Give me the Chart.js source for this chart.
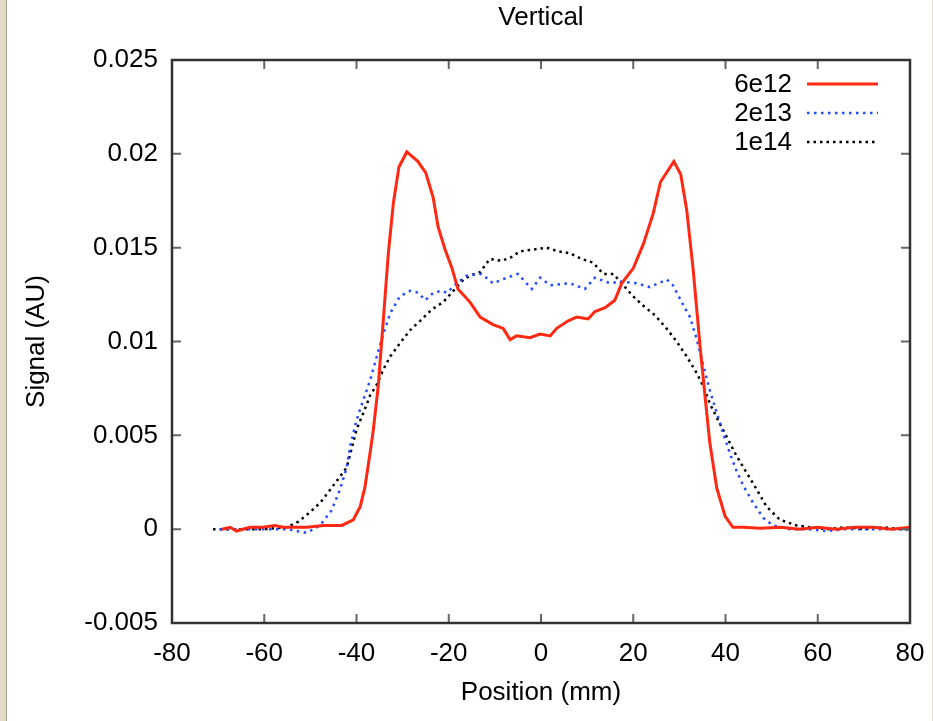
<!DOCTYPE html>
<html>
<head>
<meta charset="utf-8">
<script src="https://cdn.jsdelivr.net/npm/chart.js@4"></script>
<style>
  body { margin: 0; background: #fff; }
  #wrap { position: relative; width: 933px; height: 721px; }
  #edgeL { position: absolute; left: 0; top: 0; width: 6px; height: 721px; background: #e2dac6; border-right: 1px solid #a8a294; }
  #edgeR { position: absolute; right: 0; top: 0; width: 1px; height: 721px; background: #e8e0cc; }
  canvas { position: absolute; left: 0; top: 0; }
</style>
</head>
<body>
<div id="wrap">
  <div id="edgeL"></div>
  <div id="edgeR"></div>
  <canvas id="chart" width="933" height="721"></canvas>
</div>
<script>
const chartTitle = 'Vertical';
const xTitle = 'Position (mm)';
const yTitle = 'Signal (AU)';
const xTicks = [-80, -60, -40, -20, 0, 20, 40, 60, 80];
const yTicks = [-0.005, 0, 0.005, 0.01, 0.015, 0.02, 0.025];
const seriesNames = ['6e12', '2e13', '1e14'];

// 6e12
const pos6e12 = [-69.2, -67.4, -66, -63.1, -60.3, -57.7, -55.9, -50.8, -47.2, -43.2, -40.7, -39.2, -38.2, -37.1,
  -36.4, -35.3, -34.2, -33.1, -32, -30.8, -29.1, -26.7, -25, -23.4, -22.3, -20.8, -19.3, -18, -15.4,
  -13.2, -10.4, -8.2, -6.7, -5.3, -2.4, -0.2, 2, 3.4, 5.9, 7.7, 10.2, 11.7, 13.9, 16, 17.5, 20, 22.2,
  24.3, 25.9, 28.8, 30.3, 31.6, 33, 34.5, 35.6, 36.6, 38.1, 39.9, 41.6, 43.8, 47.5, 52, 56, 60, 64, 68, 72, 76, 80];
const sig6e12 = [0, 0.0001, -0.0001, 0.0001, 0.0001, 0.0002, 0.0001, 0.0001, 0.0002, 0.0002, 0.0005, 0.0012, 0.0022, 0.004,
  0.0052, 0.0076, 0.0111, 0.0147, 0.0174, 0.0193, 0.0201, 0.0196, 0.019, 0.0177, 0.0161, 0.0149, 0.0139, 0.0128, 0.0121,
  0.0113, 0.0109, 0.0107, 0.0101, 0.0103, 0.0102, 0.0104, 0.0103, 0.0107, 0.0111, 0.0113, 0.0112, 0.0116, 0.0118, 0.0122, 0.0131, 0.0139, 0.0152,
  0.0168, 0.0185, 0.0196, 0.0189, 0.017, 0.0138, 0.0097, 0.007, 0.0046, 0.0022, 0.0007, 0.0001, 0.0001, 0.00005, 0.0001, 0, 0.0001, 0, 0.0001, 0.0001, 0, 0.0001];

// 2e13
const pos2e13 = [-69.6, -65, -60, -55, -50.8, -47.9, -45.4, -43.6, -42.1, -41.4, -40, -38.5, -37.1, -35.6, -34.2, -32.7,
  -30.6, -28.4, -26.6, -25.1, -23.3, -21.5, -20.4, -18.3, -16.1, -12.9, -10.4, -7.4, -5, -2, -0.2, 2, 6.3, 9.5,
  11.7, 15, 17.1, 20.7, 23.6, 27.3, 28.6, 30.5, 32.3, 33.8, 35.2, 36.6, 38.1, 39.5, 41, 42.4, 43.9, 46, 48.2,
  50.3, 54, 58, 62, 66, 70, 74, 78, 80];
const sig2e13 = [0, 0, 0, 0, -0.0002, 0.0002, 0.001, 0.0021, 0.0033, 0.0044, 0.0058, 0.0069, 0.0079, 0.0092, 0.0104, 0.0115,
  0.0124, 0.0127, 0.0126, 0.0122, 0.0126, 0.0127, 0.0126, 0.0131, 0.0135, 0.0136, 0.0131, 0.0134, 0.0136, 0.0128, 0.0134, 0.013, 0.0131, 0.0128,
  0.0134, 0.0131, 0.0132, 0.0131, 0.0129, 0.0133, 0.013, 0.0121, 0.0113, 0.0101, 0.0087, 0.0074, 0.0062, 0.0051, 0.004, 0.0031, 0.0023, 0.0014, 0.0006,
  0.0002, 0, 0, -0.0001, 0, 0, 0, 0, 0];

// 1e14
const pos1e14 = [-71.1, -65, -60, -55.1, -52.6, -50.1, -47.9, -45.7, -43.6, -42.1, -40, -38.5, -37.1, -35.6, -34.2, -32.7,
  -30.6, -28.4, -26.2, -23.7, -21.2, -19, -16.8, -15.4, -13.2, -11.1, -8.5, -6.4, -4.6, -1.7, 1.2, 3.8, 6.3, 8.8,
  11.3, 13.5, 15.7, 17.5, 20, 22.2, 24.7, 27.2, 29.4, 31.6, 33.8, 35.2, 36.6, 38.4, 40.3, 42.4, 44.6, 46.8, 48.9,
  51.8, 55.4, 58.3, 62, 66, 70, 74, 78, 80];
const sig1e14 = [0, 0, 0, 0.0001, 0.0004, 0.0009, 0.0014, 0.0021, 0.0028, 0.0033, 0.0053, 0.0062, 0.0071, 0.0077, 0.0085, 0.0092,
  0.0099, 0.0106, 0.0111, 0.0117, 0.0121, 0.0127, 0.0133, 0.0135, 0.0137, 0.0144, 0.0143, 0.0145, 0.0148, 0.0149, 0.015, 0.0148, 0.0147, 0.0144,
  0.0142, 0.0136, 0.0136, 0.0131, 0.0124, 0.0119, 0.0114, 0.0107, 0.01, 0.0092, 0.0083, 0.0076, 0.0067, 0.0058, 0.0049, 0.0039, 0.003, 0.0021, 0.0012,
  0.0005, 0.0002, 0.0001, 0, 0.0001, 0, 0.0001, 0, 0];

const FONT = '"Liberation Sans", Arial, Helvetica, sans-serif';
const toPoints = (xs, ys) => xs.map((x, i) => ({ x: x, y: ys[i] }));
const noPad = s => { s.paddingLeft = 0; s.paddingRight = 0; s.paddingTop = 0; s.paddingBottom = 0; };

const frame = {
  id: 'frame',
  afterDatasetsDraw(chart) {
    const { ctx, chartArea: a, scales } = chart;
    ctx.save();
    // inward ticks on all four sides
    ctx.strokeStyle = '#666';
    ctx.lineWidth = 2;
    ctx.beginPath();
    xTicks.forEach(v => {
      const px = scales.x.getPixelForValue(v);
      ctx.moveTo(px, a.bottom); ctx.lineTo(px, a.bottom - 9);
      ctx.moveTo(px, a.top); ctx.lineTo(px, a.top + 9);
    });
    yTicks.forEach(v => {
      const py = scales.y.getPixelForValue(v);
      ctx.moveTo(a.left, py); ctx.lineTo(a.left + 9, py);
      ctx.moveTo(a.right, py); ctx.lineTo(a.right - 9, py);
    });
    ctx.stroke();
    ctx.strokeStyle = '#333';
    ctx.lineWidth = 2.5;
    ctx.strokeRect(a.left, a.top, a.right - a.left, a.bottom - a.top);
    ctx.restore();
  },
  afterDraw(chart) {
    const { ctx, chartArea: a } = chart;
    ctx.save();
    ctx.fillStyle = '#000';
    ctx.font = '26px ' + FONT;
    ctx.textBaseline = 'middle';
    ctx.textAlign = 'center';
    ctx.fillText(chartTitle, (a.left + a.right) / 2, 18);
    // legend inside top right
    chart.data.datasets.forEach((ds, i) => {
      const y = 84 + i * 29;
      ctx.textAlign = 'right';
      ctx.fillStyle = '#000';
      ctx.fillText(ds.label, 792, y + 1);
      ctx.strokeStyle = ds.borderColor;
      ctx.lineWidth = ds.borderWidth;
      ctx.setLineDash(ds.borderDash || []);
      ctx.beginPath();
      ctx.moveTo(807, y); ctx.lineTo(878, y);
      ctx.stroke();
    });
    ctx.restore();
  }
};

new Chart(document.getElementById('chart'), {
  type: 'line',
  data: {
    datasets: [
      { label: seriesNames[0], data: toPoints(pos6e12, sig6e12), borderColor: 'rgb(255,40,18)', borderWidth: 3, borderDash: [] },
      { label: seriesNames[1], data: toPoints(pos2e13, sig2e13), borderColor: 'rgb(35,75,255)', borderWidth: 2.5, borderDash: [2.5, 4.5] },
      { label: seriesNames[2], data: toPoints(pos1e14, sig1e14), borderColor: '#000', borderWidth: 2.5, borderDash: [2.5, 4] }
    ]
  },
  options: {
    responsive: false,
    animation: false,
    layout: { padding: { top: 60, right: 23, left: 0, bottom: 0 } },
    elements: { point: { radius: 0 }, line: { tension: 0 } },
    plugins: { legend: { display: false }, title: { display: false }, tooltip: { enabled: false } },
    scales: {
      x: {
        type: 'linear', min: -80, max: 80,
        afterBuildTicks: s => { s.ticks = xTicks.map(v => ({ value: v })); },
        afterFit: s => { s.height = 98; noPad(s); },
        grid: { display: false, drawTicks: false },
        border: { display: false },
        ticks: { color: '#000', font: { family: FONT, size: 26 }, padding: 15, maxRotation: 0, autoSkip: false },
        title: { display: true, text: xTitle, color: '#000', font: { family: FONT, size: 26 }, padding: { top: 13, bottom: 13 } }
      },
      y: {
        type: 'linear', min: -0.005, max: 0.025,
        afterBuildTicks: s => { s.ticks = yTicks.map(v => ({ value: v })); },
        afterFit: s => { s.width = 172; noPad(s); },
        grid: { display: false, drawTicks: false },
        border: { display: false },
        ticks: { color: '#000', font: { family: FONT, size: 26 }, padding: 14, autoSkip: false,
          callback: v => String(Number(v.toFixed(3))) },
        title: { display: true, text: yTitle, color: '#000', font: { family: FONT, size: 26 }, padding: { top: 21, bottom: 0 } }
      }
    }
  },
  plugins: [frame]
});
</script>
</body>
</html>
